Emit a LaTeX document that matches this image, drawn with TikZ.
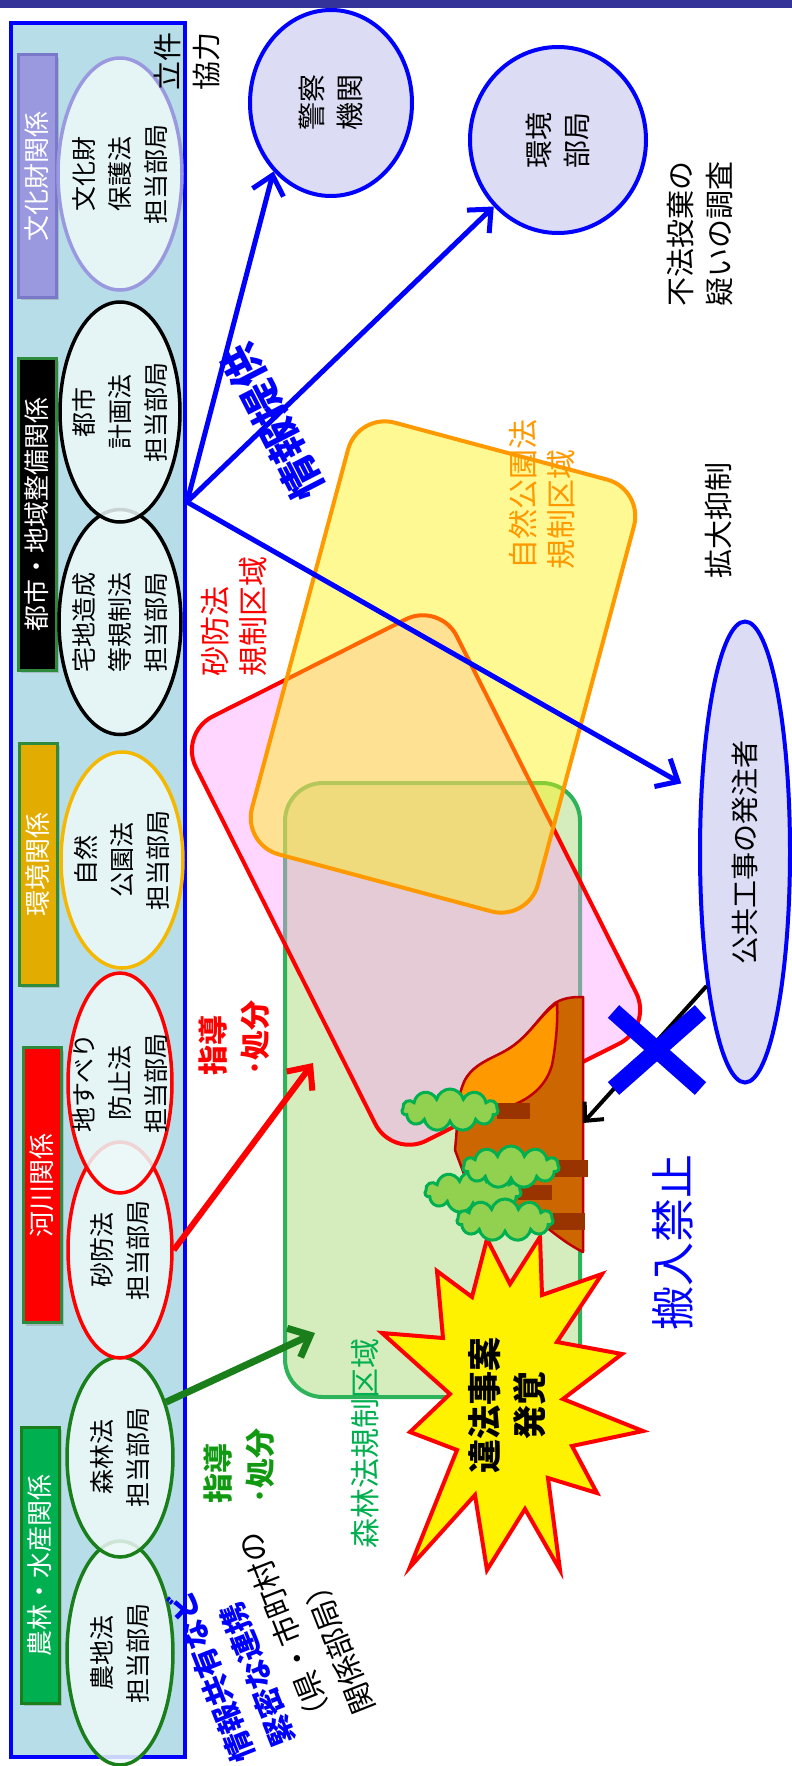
\documentclass[tikz,border=0pt]{standalone}
\usepackage{fontspec}
\setmainfont{Noto Sans CJK JP}
\usetikzlibrary{positioning,shapes,shapes.misc,shapes.symbols,arrows.meta,shadows}

\definecolor{navy}{HTML}{333399}
\definecolor{panelfill}{HTML}{B7DEE8}
\definecolor{ovalfill}{HTML}{EEF8F8}
\definecolor{lavender}{HTML}{DCDCF4}
\definecolor{culturecol}{HTML}{9A98DE}
\definecolor{culturedark}{HTML}{7A78C8}
\definecolor{parkcol}{HTML}{F5B800}
\definecolor{forestcol}{HTML}{1A7F1A}
\definecolor{framegreen}{HTML}{2E8B3E}
\definecolor{catgreen}{HTML}{00B050}
\definecolor{catgold}{HTML}{E3AC00}
\definecolor{zonegreen}{HTML}{92D050}
\definecolor{zoneline}{HTML}{2DB35A}
\definecolor{zonepink}{HTML}{FF99FF}
\definecolor{orangeline}{HTML}{FF9900}
\definecolor{mtorange}{HTML}{FF9900}
\definecolor{mtbrown}{HTML}{CC6600}
\definecolor{mtline}{HTML}{C00000}
\definecolor{trunk}{HTML}{993300}
\definecolor{crownfill}{HTML}{92D050}
\definecolor{crownline}{HTML}{00B050}
\definecolor{guidegreen}{HTML}{119911}

\newcommand{\fsz}[2]{\fontsize{#1}{#2}\selectfont}

\begin{document}
\begin{tikzpicture}[x=1pt, y=-1pt,
        agency/.style={ellipse, draw=#1, line width=3.5pt, fill=ovalfill, fill opacity=0.85, text opacity=1,
            rotate=90, align=center, inner xsep=0pt, inner ysep=-14pt, font=\fsz{25}{36}},
        category/.style={rectangle, fill=#1, draw=framegreen, line width=3pt, rotate=90, text=white,
            minimum height=38pt, inner sep=0pt, font=\fsz{26}{30},
            drop shadow={opacity=0.35, shadow xshift=3pt, shadow yshift=-3pt}},
        authority/.style={ellipse, draw=blue, line width=4pt, fill=lavender, rotate=90, align=center,
            inner sep=0pt, font=\fsz{28}{38}},
        zone/.style={rectangle, rounded corners=38pt, line width=4pt, inner sep=0pt},
        zonelabel/.style={rotate=90, align=left, inner sep=0pt, font=\fsz{30}{38}},
        remark/.style={rotate=90, align=center, inner sep=0pt, font=\fsz{29}{39}},
        guidelabel/.style={rotate=90, align=left, inner sep=0pt, font=\bfseries\fsz{30}{42}},
        infoarrow/.style={-{Straight Barb[length=18pt, width=32pt]}, line width=5pt, blue},
        guidearrow/.style={-{Straight Barb[length=18pt, width=32pt]}, line width=6pt, #1},
        crown/.style={cloud, cloud puffs=11, cloud ignores aspect, draw=crownline, fill=crownfill,
            line width=3pt, minimum width=96pt, minimum height=42pt, inner sep=0pt}
    ]

    %page
    \fill[white] (0,0) rectangle (792,1766);
    \useasboundingbox (0,0) rectangle (792,1766);
    \fill[navy] (0,0) rectangle (792,8);

    %agency panel
    \node[draw=blue, line width=4pt, fill=panelfill, minimum width=174pt, minimum height=1734pt,
        inner sep=0pt] (panel) at (98,890) {};

    %category bars
    \node[category=culturecol, draw=culturedark, minimum width=242pt] (cultcat)  at (37,176)  {文化財関係};
    \node[category=black,   minimum width=312pt] (citycat)  at (37,514)  {都市・地域整備関係};
    \node[category=catgold, minimum width=242pt] (envcat)   at (38,864)  {環境関係};
    \node[category=red,     minimum width=275pt] (rivercat) at (42,1185) {河川関係};
    \node[category=catgreen, draw=forestcol, minimum width=276pt] (agricat) at (40,1565) {農林・水産関係};

    %agency ovals, lower ones first
    \node[agency=forestcol,  minimum width=224pt, minimum height=106pt] (farm)    at (120,1653) {農地法\\担当部局};
    \node[agency=forestcol,  minimum width=200pt, minimum height=106pt] (forest)  at (120,1457) {森林法\\担当部局};
    \node[agency=red,        minimum width=216pt, minimum height=104pt] (sabo)    at (120,1250) {砂防法\\担当部局};
    \node[agency=red,        minimum width=220pt, minimum height=104pt] (slide)   at (120,1083) {地すべり\\防止法\\担当部局};
    \node[agency=parkcol,    minimum width=216pt, minimum height=122pt] (park)    at (122,860)  {自然\\公園法\\担当部局};
    \node[agency=black,      minimum width=225pt, minimum height=122pt] (takuchi) at (120,622)  {宅地造成\\等規制法\\担当部局};
    \node[agency=black,      minimum width=220pt, minimum height=120pt] (urban)   at (120,412)  {都市\\計画法\\担当部局};
    \node[agency=culturecol, minimum width=232pt, minimum height=124pt] (culture) at (120,174)  {文化財\\保護法\\担当部局};

    %other authorities
    \node[authority, minimum width=186pt, minimum height=162pt] (police)  at (331,103) {警察\\機関};
    \node[authority, minimum width=186pt, minimum height=176pt] (envdept) at (558,140) {環境\\部局};
    \node[authority, minimum width=461pt, minimum height=90pt]  (client)  at (745,852) {公共工事の発注者};

    %regulated zones
    \node[zone, draw=zoneline, fill=zonegreen, fill opacity=0.38, minimum width=295pt, minimum height=614pt]
        (forestzone) at (432.5,1090) {};
    \node[zone, draw=red, fill=zonepink, fill opacity=0.4, minimum width=292pt, minimum height=475pt,
        rotate=26.7] (sabozone) at (416,880) {};
    \node[zone, draw=orangeline, fill=yellow, fill opacity=0.42, minimum width=296pt, minimum height=447pt,
        rotate=-15] (parkzone) at (443,667) {};

    \node[zonelabel, text=red]        (sabolabel)   at (234,616)  {砂防法\\規制区域};
    \node[zonelabel, text=orangeline] (parklabel)   at (542,494)  {自然公園法\\規制区域};
    \node[zonelabel, text=catgreen]   (forestlabel) at (365,1443) {森林法規制区域};

    %burst
    \filldraw[fill=yellow, draw=red, line width=4pt, line join=miter]
        (487,1239) -- (510,1284) -- (540,1237) -- (542,1295) -- (602,1274) -- (557,1342)
        -- (622,1354) -- (563,1399) -- (643,1431) -- (572,1446) -- (597,1493) -- (548,1478)
        -- (560,1570) -- (525,1509) -- (487,1570) -- (475,1495) -- (410,1567) -- (457,1450)
        -- (410,1432) -- (450,1394) -- (382,1333) -- (443,1338) -- (437,1271) -- (472,1297) -- cycle;
    \node[rotate=90, align=center, inner sep=0pt, font=\bfseries\fsz{34}{45}] (found) at (507,1405) {違法事案\\発覚};

    %hill with trees
    \filldraw[fill=mtbrown, draw=mtline, line width=2.5pt, line join=round]
        (583,997) -- (583,1252)
        .. controls (565,1243) and (550,1230) .. (535,1218)
        -- (470,1190) -- (455,1150)
        .. controls (458,1120) and (458,1095) .. (465,1080)
        .. controls (475,1062) and (495,1058) .. (510,1048)
        .. controls (530,1035) and (540,1015) .. (555,1003)
        .. controls (565,997) and (575,997) .. cycle;
    \filldraw[fill=mtorange, draw=mtline, line width=2.5pt, line join=round]
        (557,1003) .. controls (540,1015) and (530,1035) .. (510,1048)
        .. controls (495,1058) and (475,1062) .. (465,1080)
        .. controls (458,1095) and (458,1105) .. (460,1112)
        -- (500,1110)
        .. controls (525,1102) and (545,1090) .. (552,1065)
        .. controls (556,1045) and (558,1020) .. cycle;
    \fill[trunk] (497,1103) rectangle (530,1119);
    \fill[trunk] (550,1160) rectangle (588,1177);
    \fill[trunk] (518,1185) rectangle (552,1200);
    \fill[trunk] (550,1213) rectangle (585,1230);
    \node[crown] (crownA) at (450,1110) {};
    \node[crown] (crownC) at (473,1192) {};
    \node[crown] (crownB) at (511,1167) {};
    \node[crown] (crownD) at (505,1220) {};

    %arrows
    \coordinate (hub)       at (187,502);
    \coordinate (sabotip)   at (313,1063);
    \coordinate (foresttip) at (315,1333);
    \coordinate (mtn)       at (583,1123);
    \draw[infoarrow] (hub) -- (police.140);
    \draw[infoarrow] (hub) -- (envdept.136);
    \draw[infoarrow, shorten >=21pt] (hub) -- (client.38.7);
    \draw[guidearrow=red] (sabo.south) -- (sabotip);
    \draw[guidearrow=forestcol, line width=7pt] (forest.320) -- (foresttip);
    \draw[-{Straight Barb[length=14pt, width=26pt]}, line width=4pt] (client.164) -- (mtn);
    \node[cross out, draw=blue, line width=17pt, minimum width=70pt, minimum height=60pt] (ban) at (657,1050) {};

    %labels
    \node[rotate=117.3, inner sep=0pt, text=blue, font=\bfseries\fsz{42}{50}] (infolabel) at (273,422) {情報提供};
    \node[guidelabel, text=red]        (guide1) at (234,1038) {指導\\･処分};
    \node[guidelabel, text=guidegreen] (guide2) at (239,1466) {指導\\･処分};
    \node[rotate=90, inner sep=0pt, text=blue, font=\fsz{44}{50}] (banlabel) at (673,1242) {搬入禁止};
    \node[remark] (coop)   at (187,62)  {立件\\協力};
    \node[remark] (survey) at (700,234) {不法投棄の\\疑いの調査};
    \node[remark] (curb)   at (718,520) {拡大抑制};
    \node[rotate=111.5, align=left, inner sep=0pt, font=\fsz{30}{43}] (liaison) at (266,1639)
        {\textcolor{blue}{\bfseries 情報共有など}\\\textcolor{blue}{\bfseries 緊密な連携}\\（県・市町村の\\関係部局）};

\end{tikzpicture}
\end{document}
